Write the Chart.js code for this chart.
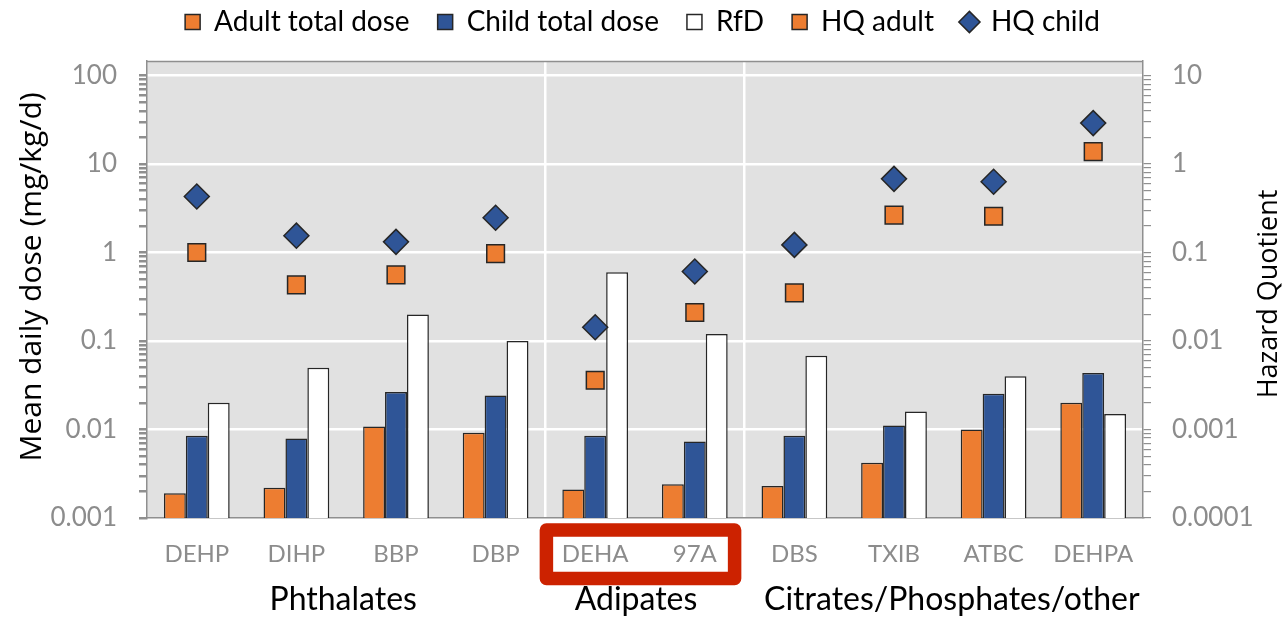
<!DOCTYPE html>
<html>
<head>
<meta charset="utf-8">
<script src="https://cdn.jsdelivr.net/npm/chart.js@4"></script>
<style>
  html, body { margin: 0; padding: 0; background: #ffffff; }
  #wrap { width: 1285px; height: 618px; position: relative; }
</style>
</head>
<body>
<div id="wrap"><canvas id="chart" width="1285" height="618"></canvas></div>
<script>
// Plasticizer exposure: mean daily doses (left axis) and hazard quotients (right axis)
const categories = ['DEHP', 'DIHP', 'BBP', 'DBP', 'DEHA', '97A', 'DBS', 'TXIB', 'ATBC', 'DEHPA'];
const groupNames = ['Phthalates', 'Adipates', 'Citrates/Phosphates/other'];
const groupSizes = [4, 2, 4];

const adultDose = [0.0019, 0.0022, 0.0108, 0.0092, 0.0021, 0.0024, 0.0023, 0.0042, 0.0100, 0.0201];
const childDose = [0.0085, 0.0079, 0.0265, 0.0243, 0.0085, 0.0073, 0.0085, 0.0111, 0.0254, 0.0434];
const rfdValues = [0.020, 0.050, 0.200, 0.100, 0.600, 0.120, 0.068, 0.016, 0.040, 0.015];
const hqAdult = [0.100, 0.043, 0.056, 0.097, 0.0036, 0.021, 0.035, 0.265, 0.257, 1.38];
const hqChild = [0.43, 0.155, 0.132, 0.247, 0.0143, 0.061, 0.122, 0.68, 0.63, 2.9];

const doseTickLabels = ['0.001', '0.01', '0.1', '1', '10', '100'];
const hqTickLabels = ['0.0001', '0.001', '0.01', '0.1', '1', '10'];

const ORANGE = '#ED7D31';
const BLUE = '#2F5597';
const EDGE = '#262626';
const AXIS_GRAY = '#8f8f8f';
const LABEL_GRAY = '#8c8c8c';
const PLOT_BG = '#e1e1e1';
const HIGHLIGHT = '#cc2200';
// small horizontal nudges for the group captions (px)
const groupNudge = [-3, -9, 8];

// decade ticks plus the 2..9 minor marks inside each decade
function logTicks(labels) {
  const vals = [];
  labels.forEach((t, i) => {
    const d = parseFloat(t);
    vals.push(d);
    if (i < labels.length - 1) {
      for (let k = 2; k <= 9; k++) vals.push(+(k * d).toPrecision(6));
    }
  });
  return vals.map(v => ({ value: v }));
}
function labelFor(labels, v) {
  const hit = labels.find(t => Math.abs(parseFloat(t) - v) <= v * 1e-6);
  return hit === undefined ? '' : hit;
}
function isDecade(labels, v) {
  return labelFor(labels, v) !== '';
}

const plotDecor = {
  id: 'plotDecor',
  beforeDraw(chart) {
    const { ctx, chartArea: a } = chart;
    ctx.save();
    ctx.fillStyle = PLOT_BG;
    ctx.fillRect(a.left, a.top, a.right - a.left, a.bottom - a.top);
    ctx.restore();
  },
  afterDraw(chart) {
    const { ctx, chartArea: a } = chart;
    const x = chart.scales.x;
    ctx.save();
    // top edge of the plot frame
    ctx.strokeStyle = AXIS_GRAY;
    ctx.lineWidth = 1.5;
    ctx.beginPath();
    ctx.moveTo(a.left, a.top + 0.5);
    ctx.lineTo(a.right, a.top + 0.5);
    ctx.stroke();

    // group captions under the category labels
    ctx.fillStyle = '#000000';
    ctx.font = '32px Lato';
    ctx.textAlign = 'center';
    ctx.textBaseline = 'middle';
    let start = 0;
    groupNames.forEach((name, g) => {
      const end = start + groupSizes[g] - 1;
      const cx = (x.getPixelForValue(start) + x.getPixelForValue(end)) / 2 + groupNudge[g];
      ctx.fillText(name, cx, 600);
      start = end + 1;
    });

    // axis titles, both reading bottom to top
    ctx.save();
    ctx.translate(32, 277);
    ctx.rotate(-Math.PI / 2);
    ctx.font = '30px "Open Sans"';
    ctx.fillText('Mean daily dose (mg/kg/d)', 0, 0);
    ctx.restore();

    ctx.save();
    ctx.translate(1269, 294);
    ctx.rotate(-Math.PI / 2);
    ctx.font = '27px "Open Sans"';
    ctx.fillText('Hazard Quotient', 0, 0);
    ctx.restore();

    // highlight frame around the adipate labels
    const half = (x.getPixelForValue(1) - x.getPixelForValue(0)) / 2;
    const left = x.getPixelForValue(4) - half + 1;
    const right = x.getPixelForValue(5) + half - 10;
    ctx.strokeStyle = HIGHLIGHT;
    ctx.lineWidth = 13.5;
    ctx.lineJoin = 'round';
    ctx.strokeRect(left, a.bottom + 12, right - left, 48.5);
    ctx.restore();
  }
};

const ctx = document.getElementById('chart').getContext('2d');
new Chart(ctx, {
  type: 'bar',
  data: {
    labels: categories,
    datasets: [
      { label: 'Adult total dose', data: adultDose, backgroundColor: ORANGE, borderColor: EDGE,
        borderWidth: 1.5, pointStyle: 'rect', yAxisID: 'y', order: 1 },
      { label: 'Child total dose', data: childDose, backgroundColor: BLUE, borderColor: EDGE,
        borderWidth: 1.5, pointStyle: 'rect', yAxisID: 'y', order: 1 },
      { label: 'RfD', data: rfdValues, backgroundColor: '#ffffff', borderColor: EDGE,
        borderWidth: 1.5, pointStyle: 'rect', yAxisID: 'y', order: 1 },
      { type: 'line', label: 'HQ adult', data: hqAdult, showLine: false, yAxisID: 'y1',
        pointStyle: 'rect', pointRadius: 12.5, pointHoverRadius: 12.5, pointBorderWidth: 1.5,
        backgroundColor: ORANGE, borderColor: EDGE, pointBackgroundColor: ORANGE, pointBorderColor: EDGE, order: 0 },
      { type: 'line', label: 'HQ child', data: hqChild, showLine: false, yAxisID: 'y1',
        pointStyle: 'rectRot', pointRadius: 12.5, pointHoverRadius: 12.5, pointBorderWidth: 1.5,
        backgroundColor: BLUE, borderColor: EDGE, pointBackgroundColor: BLUE, pointBorderColor: EDGE, order: 0 }
    ]
  },
  options: {
    responsive: false,
    animation: false,
    layout: { padding: { top: -20, left: 0, right: 0, bottom: 0 } },
    datasets: { bar: { categoryPercentage: 0.66, barPercentage: 1.0 } },
    plugins: {
      tooltip: { enabled: false },
      legend: {
        position: 'top',
        align: 'center',
        labels: {
          usePointStyle: true,
          boxWidth: 15,
          boxHeight: 15,
          padding: 28,
          color: '#000000',
          font: { family: 'Lato', size: 28 },
          sort: (a, b) => a.datasetIndex - b.datasetIndex
        }
      },
      title: {
        display: true,
        text: ' ',
        weight: 500,
        padding: 0,
        font: { size: 10, lineHeight: 1.5 }
      }
    },
    scales: {
      x: {
        type: 'category',
        offset: true,
        grid: {
          offset: true,
          drawTicks: false,
          lineWidth: 2.5,
          color: (c) => (c.index === 4 || c.index === 6) ? '#ffffff' : 'rgba(0,0,0,0)'
        },
        border: { display: true, color: AXIS_GRAY, width: 1.5 },
        ticks: {
          color: LABEL_GRAY,
          font: { family: 'Lato', size: 24 },
          padding: 22,
          maxRotation: 0,
          autoSkip: false
        },
        afterFit: (s) => { s.height = 100; }
      },
      y: {
        type: 'logarithmic',
        position: 'left',
        min: 0.001,
        max: 146,
        afterBuildTicks: (s) => { s.ticks = logTicks(doseTickLabels); },
        ticks: {
          autoSkip: false,
          color: LABEL_GRAY,
          font: { family: 'Lato', size: 26 },
          padding: 22,
          callback: (v) => labelFor(doseTickLabels, v)
        },
        grid: {
          drawTicks: true,
          tickLength: 8,
          tickColor: AXIS_GRAY,
          lineWidth: 2.5,
          color: (c) => (c.tick && isDecade(doseTickLabels, c.tick.value)) ? '#ffffff' : 'rgba(0,0,0,0)'
        },
        border: { display: true, color: AXIS_GRAY, width: 1.5 },
        title: { display: false },
        afterFit: (s) => { s.width = 147; }
      },
      y1: {
        type: 'logarithmic',
        position: 'right',
        min: 0.0001,
        max: 14.6,
        afterBuildTicks: (s) => { s.ticks = logTicks(hqTickLabels); },
        ticks: {
          autoSkip: false,
          color: LABEL_GRAY,
          font: { family: 'Lato', size: 26 },
          padding: 21,
          callback: (v) => labelFor(hqTickLabels, v)
        },
        grid: {
          drawOnChartArea: false,
          drawTicks: true,
          tickLength: 8,
          tickColor: AXIS_GRAY,
          lineWidth: 1.2
        },
        border: { display: true, color: AXIS_GRAY, width: 1.5 },
        afterFit: (s) => { s.width = 142; }
      }
    }
  },
  plugins: [plotDecor]
});
</script>
</body>
</html>
